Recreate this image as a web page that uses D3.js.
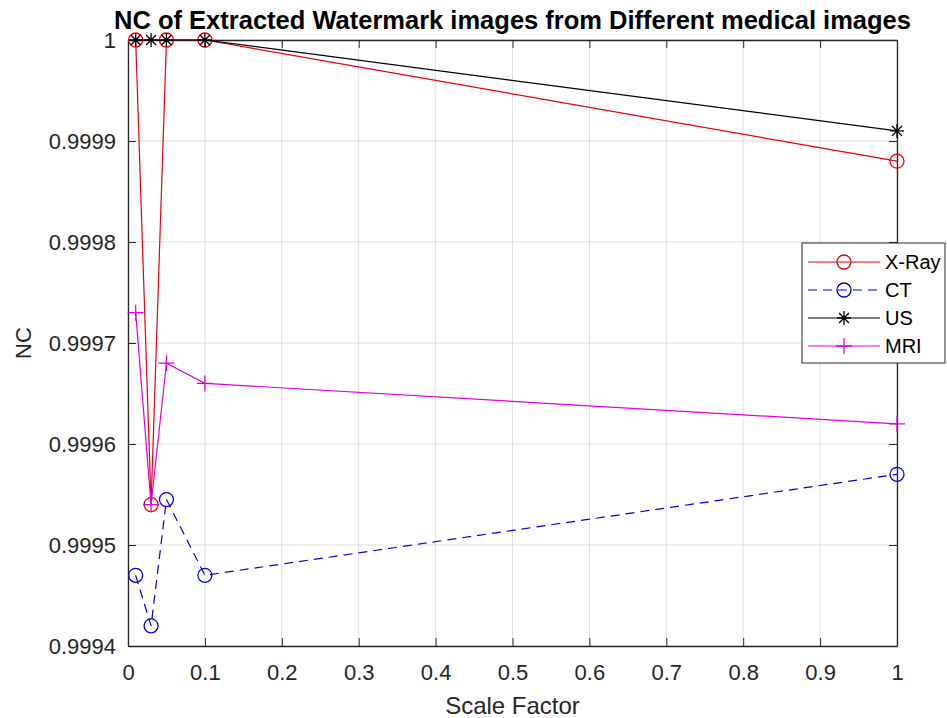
<!DOCTYPE html>
<html lang="en">
<head>
  <meta charset="UTF-8">
  <title>NC of Extracted Watermark images</title>
  <script src="https://d3js.org/d3.v7.min.js"></script>
  <style>
    body { margin: 0; background: #fff; font-family: "Liberation Sans", Arial, sans-serif; }
    .grid line { stroke: #dfdfdf; stroke-width: 1; }
    .axis text { fill: #262626; font-size: 22px; }
    .axis path, .axis line { stroke: #262626; }
  </style>
</head>
<body>
<script>
  // data
  const scaleFactors = [0.01, 0.03, 0.05, 0.1, 1];
  const xray = [1, 0.99954, 1, 1, 0.99988];
  const ct = [0.99947, 0.99942, 0.999545, 0.99947, 0.99957];
  const us = [1, 1, 1, 1, 0.99991];
  const mri = [0.99973, 0.99954, 0.99968, 0.99966, 0.99962];
  const xTicks = [0, 0.1, 0.2, 0.3, 0.4, 0.5, 0.6, 0.7, 0.8, 0.9, 1];
  const yTicks = [0.9994, 0.9995, 0.9996, 0.9997, 0.9998, 0.9999, 1];

  const series = [
    {name: "X-Ray", values: xray, color: "#e8000b", dash: null, marker: "circle"},
    {name: "CT", values: ct, color: "#0000e0", dash: "9,6", marker: "circle"},
    {name: "US", values: us, color: "#000000", dash: null, marker: "star"},
    {name: "MRI", values: mri, color: "#e000e0", dash: null, marker: "plus"}
  ];

  const W = 947, H = 718;
  const margin = {top: 40, right: 50, bottom: 72, left: 128};
  const width = W - margin.left - margin.right;
  const height = H - margin.top - margin.bottom;

  const svg = d3.select("body").append("svg")
    .attr("width", W).attr("height", H);
  const g = svg.append("g")
    .attr("transform", "translate(" + margin.left + "," + margin.top + ")");

  const x = d3.scaleLinear().domain([0, 1]).range([0, width]);
  const y = d3.scaleLinear().domain([0.9994, 1]).range([height, 0]);

  // grid
  g.append("g").attr("class", "grid")
    .selectAll("line").data(xTicks).enter().append("line")
    .attr("x1", d => x(d)).attr("x2", d => x(d))
    .attr("y1", 0).attr("y2", height);
  g.append("g").attr("class", "grid")
    .selectAll("line").data(yTicks).enter().append("line")
    .attr("x1", 0).attr("x2", width)
    .attr("y1", d => y(d)).attr("y2", d => y(d));

  const fmt = d => String(+d.toFixed(4));

  const xAxis = g.append("g").attr("class", "axis")
    .attr("transform", "translate(0," + height + ")")
    .call(d3.axisBottom(x).tickValues(xTicks).tickFormat(fmt).tickSizeInner(-8).tickSizeOuter(0).tickPadding(27));
  const yAxis = g.append("g").attr("class", "axis")
    .call(d3.axisLeft(y).tickValues(yTicks).tickFormat(fmt).tickSizeInner(-8).tickSizeOuter(0).tickPadding(12));
  g.append("g").attr("class", "axis")
    .call(d3.axisTop(x).tickValues(xTicks).tickFormat("").tickSizeInner(-8).tickSizeOuter(0));
  g.append("g").attr("class", "axis")
    .attr("transform", "translate(" + width + ",0)")
    .call(d3.axisRight(y).tickValues(yTicks).tickFormat("").tickSizeInner(-8).tickSizeOuter(0));
  xAxis.selectAll("text").attr("dy", "0.32em");
  g.selectAll(".axis path").attr("stroke-width", 1.3);

  // lines
  const line = d3.line().x((d, i) => x(scaleFactors[i])).y(d => y(d));

  function drawMarker(sel, type, color, cx, cy) {
    if (type === "circle") {
      sel.append("circle").attr("cx", cx).attr("cy", cy).attr("r", 7)
        .attr("fill", "none").attr("stroke", color).attr("stroke-width", 1.3);
    } else if (type === "plus") {
      sel.append("path")
        .attr("d", `M${cx - 8},${cy}H${cx + 8}M${cx},${cy - 8}V${cy + 8}`)
        .attr("stroke", color).attr("stroke-width", 1.3);
    } else if (type === "star") {
      const r = 7;
      const a = r * 0.707;
      sel.append("path")
        .attr("d", `M${cx - r},${cy}H${cx + r}M${cx},${cy - r}V${cy + r}` +
          `M${cx - a},${cy - a}L${cx + a},${cy + a}M${cx - a},${cy + a}L${cx + a},${cy - a}`)
        .attr("stroke", color).attr("stroke-width", 1.3);
    }
  }

  series.forEach(s => {
    g.append("path")
      .datum(s.values)
      .attr("fill", "none")
      .attr("stroke", s.color)
      .attr("stroke-width", 1.2)
      .attr("stroke-dasharray", s.dash)
      .attr("d", line);
    const mg = g.append("g");
    s.values.forEach((v, i) => drawMarker(mg, s.marker, s.color, x(scaleFactors[i]), y(v)));
  });

  // title and labels
  svg.append("text")
    .attr("x", margin.left + width / 2).attr("y", 29)
    .attr("text-anchor", "middle")
    .style("font-size", "25.5px").style("font-weight", "bold")
    .attr("fill", "#000")
    .text("NC of Extracted Watermark images from Different medical images");

  svg.append("text")
    .attr("x", margin.left + width / 2).attr("y", 714)
    .attr("text-anchor", "middle")
    .style("font-size", "24px").attr("fill", "#262626")
    .text("Scale Factor");

  svg.append("text")
    .attr("transform", "translate(31," + (margin.top + height / 2) + ") rotate(-90)")
    .attr("text-anchor", "middle")
    .style("font-size", "22px").attr("fill", "#262626")
    .text("NC");

  // legend
  const lg = svg.append("g").attr("transform", "translate(802,243)");
  lg.append("rect").attr("width", 143).attr("height", 120)
    .attr("fill", "#fff").attr("stroke", "#262626").attr("stroke-width", 1);
  series.forEach((s, i) => {
    const yy = 19 + i * 28;
    lg.append("line").attr("x1", 6).attr("x2", 78).attr("y1", yy).attr("y2", yy)
      .attr("stroke", s.color).attr("stroke-width", 1.2)
      .attr("stroke-dasharray", s.dash);
    drawMarker(lg, s.marker, s.color, 42, yy);
    lg.append("text").attr("x", 83).attr("y", yy).attr("dy", "0.35em")
      .style("font-size", "20px").attr("fill", "#000")
      .text(s.name);
  });
</script>
</body>
</html>
